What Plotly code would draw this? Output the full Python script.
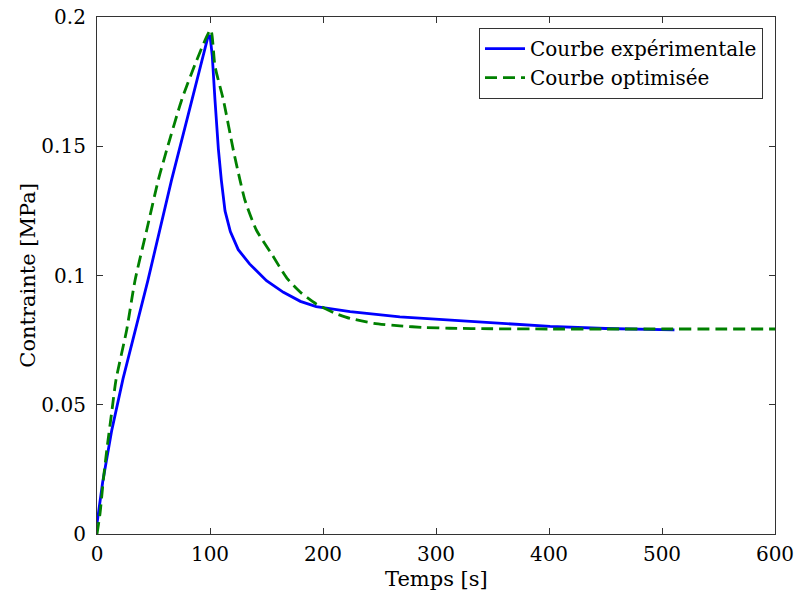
import plotly.graph_objects as go

# Experimental curve (time [s], stress [MPa])
exp_t = [0, 2, 5, 13, 23, 45, 66, 80, 90, 98, 100, 102, 104.4, 107.4, 110, 113.3, 118, 125, 135, 150, 165, 180, 194, 224, 268, 312, 357, 401, 450, 511]
exp_s = [0.004, 0.010, 0.020, 0.040, 0.060, 0.098, 0.137, 0.161, 0.178, 0.192, 0.193, 0.185, 0.168, 0.149, 0.137, 0.125, 0.117, 0.110, 0.1045, 0.098, 0.0935, 0.090, 0.088, 0.086, 0.084, 0.0828, 0.0815, 0.0803, 0.0795, 0.0790]

# Optimised curve
opt_t = [0, 2.7, 5.6, 9.1, 13, 16.8, 26.3, 33.6, 44, 54.3, 61.7, 75, 88, 100.6, 104.4, 111.8, 120.6, 126.5, 131, 141, 155, 168, 180, 194, 210, 224, 245, 268, 290, 312, 350, 400, 450, 500, 550, 600]
opt_s = [0.0, 0.008, 0.021, 0.034, 0.047, 0.0596, 0.079, 0.098, 0.1176, 0.137, 0.1486, 0.168, 0.183, 0.195, 0.181, 0.168, 0.1486, 0.137, 0.129, 0.1176, 0.108, 0.099, 0.0935, 0.089, 0.0855, 0.0834, 0.0815, 0.0805, 0.0799, 0.0796, 0.0794, 0.0793, 0.0793, 0.0793, 0.0793, 0.0793]

x_ticks = [0, 100, 200, 300, 400, 500, 600]
y_ticks = [0, 0.05, 0.1, 0.15, 0.2]
y_tick_labels = ["0", "0.05", "0.1", "0.15", "0.2"]

FONT = "DejaVu Serif"

fig = go.Figure()
fig.add_trace(go.Scatter(x=exp_t, y=exp_s, mode="lines", name="Courbe expérimentale",
                         line=dict(color="#0000FF", width=2.8)))
fig.add_trace(go.Scatter(x=opt_t, y=opt_s, mode="lines", name="Courbe optimisée",
                         line=dict(color="#008000", width=2.8, dash="12px,6px", shape="spline", smoothing=0.6)))

axis_common = dict(showgrid=False, zeroline=False, showline=True, linecolor="#333333", linewidth=1.2,
                   mirror="ticks", ticks="inside", ticklen=6, tickcolor="#333333", automargin=False,
                   ticklabeloverflow="allow",
                   tickfont=dict(family=FONT, size=20, color="black"))

fig.update_layout(
    width=795, height=598,
    margin=dict(l=97, r=20, t=17, b=64),
    paper_bgcolor="white", plot_bgcolor="white",
    font=dict(family=FONT, color="black"),
    xaxis=dict(range=[0, 600], tickvals=x_ticks, ticklabelstandoff=2, **axis_common),
    yaxis=dict(range=[0, 0.2], tickvals=y_ticks, ticktext=y_tick_labels, ticklabelstandoff=6, **axis_common),
    legend=dict(x=0.982, xanchor="right", y=0.979, yanchor="top",
                bgcolor="white", bordercolor="#333333", borderwidth=1.2,
                font=dict(family=FONT, size=20, color="black"),
                itemwidth=40, tracegroupgap=0),
    showlegend=True,
    annotations=[
        dict(text="Temps [s]", xref="paper", yref="paper", x=0.5, y=-0.088,
             xanchor="center", yanchor="middle", showarrow=False,
             font=dict(family=FONT, size=21, color="black")),
        dict(text="Contrainte [MPa]", xref="paper", yref="paper", x=-0.103, y=0.5,
             xanchor="center", yanchor="middle", showarrow=False, textangle=-90,
             font=dict(family=FONT, size=21, color="black")),
    ],
)

# remove the default page margin so the figure fills the window exactly
fig.write_html("out.html", config={"displayModeBar": False},
               post_script="document.body.style.margin='0';")
